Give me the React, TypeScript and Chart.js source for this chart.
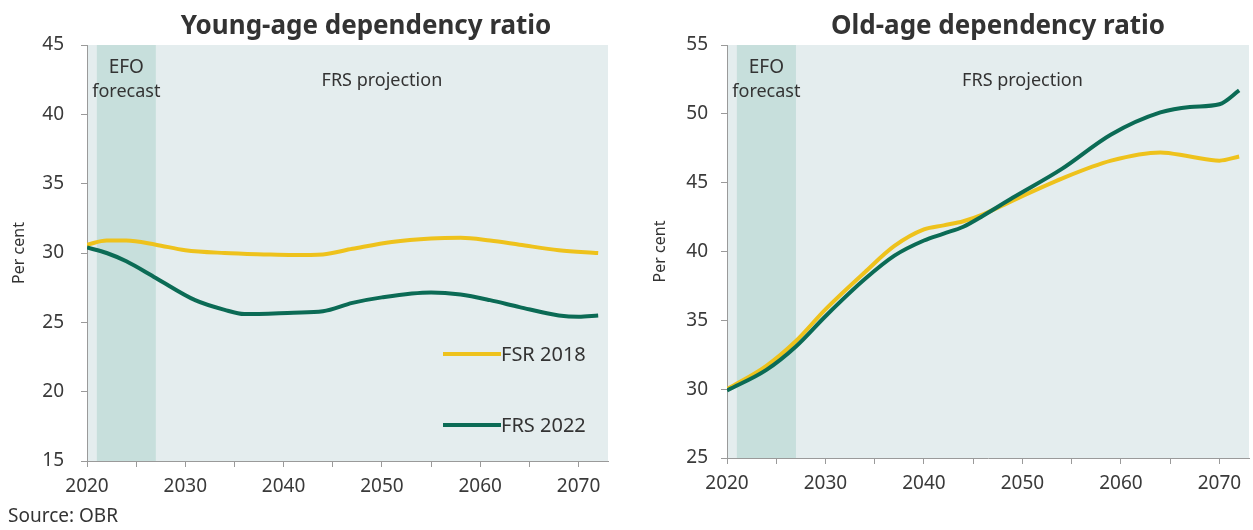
import React, { useEffect, useRef } from "react";
import { Chart, registerables } from "chart.js";
Chart.register(...registerables);

// ---------- DATA ----------
const youngTitle = "Young-age dependency ratio";
const oldTitle = "Old-age dependency ratio";

const youngFSR2018Years = [2020, 2022, 2024, 2027, 2030, 2034, 2038, 2041, 2044, 2047, 2051, 2055, 2058, 2061, 2064, 2068, 2072];
const youngFSR2018Values = [30.6, 30.9, 30.9, 30.6, 30.2, 30.0, 29.9, 29.85, 29.9, 30.3, 30.8, 31.05, 31.1, 30.9, 30.6, 30.2, 30.0];

const youngFRS2022Years = [2020, 2022, 2024, 2027, 2031, 2034, 2036, 2041, 2044, 2047, 2050, 2055, 2058, 2061, 2064, 2068, 2070, 2072];
const youngFRS2022Values = [30.4, 30.0, 29.4, 28.2, 26.6, 25.9, 25.6, 25.7, 25.8, 26.4, 26.8, 27.15, 27.0, 26.6, 26.1, 25.5, 25.4, 25.5];

const oldFSR2018Years = [2020, 2024, 2027, 2030, 2034, 2037, 2040, 2042, 2044, 2046, 2049, 2054, 2059, 2064, 2067, 2070, 2072];
const oldFSR2018Values = [30.0, 31.7, 33.5, 35.8, 38.5, 40.4, 41.6, 41.9, 42.2, 42.7, 43.7, 45.3, 46.6, 47.2, 46.9, 46.6, 46.9];

const oldFRS2022Years = [2020, 2024, 2027, 2030, 2034, 2037, 2040, 2042, 2044, 2046, 2049, 2054, 2059, 2064, 2067, 2070, 2072];
const oldFRS2022Values = [29.9, 31.4, 33.1, 35.3, 38.0, 39.7, 40.8, 41.3, 41.8, 42.6, 43.9, 46.0, 48.5, 50.1, 50.5, 50.7, 51.7];

const seriesLabels = ["FSR 2018", "FRS 2022"];
const xTickValues = [2020, 2030, 2040, 2050, 2060, 2070];
const forecastBand = [2021, 2027];
const youngRange = [15, 45];
const oldRange = [25, 55];

// ---------- STYLE ----------
const FONT = "'Noto Sans', sans-serif";
const YELLOW = "#EEC21C";
const GREEN = "#0B6B55";
const PLOT_BG = "#E4EDEE";
const BAND_BG = "#C7DFDC";
const TEXT = "#333333";
const TICK_TEXT = "#3a3a3a";
const AXIS = "#9A9A9A";

function pts(xs: number[], ys: number[]) {
  return xs.map((x, i) => ({ x, y: ys[i] }));
}

type PanelProps = {
  width: number;
  title: string;
  titleX: number;
  yRange: number[];
  yAxisWidth: number;
  xAxisHeight: number;
  padRight: number;
  yTitlePad: number;
  yTickPad: number;
  fsr: { x: number; y: number }[];
  frs: { x: number; y: number }[];
  legend: boolean;
  source: boolean;
};

function Panel(p: PanelProps) {
  const ref = useRef<HTMLCanvasElement | null>(null);
  useEffect(() => {
    if (!ref.current) return;
    const decor = {
      id: "decor",
      beforeDraw(chart: any) {
        const { ctx, chartArea: a } = chart;
        const x = chart.scales.x;
        ctx.save();
        ctx.fillStyle = PLOT_BG;
        ctx.fillRect(a.left, a.top, a.right - a.left, a.bottom - a.top);
        const x0 = x.getPixelForValue(forecastBand[0]);
        const x1 = x.getPixelForValue(forecastBand[1]);
        ctx.fillStyle = BAND_BG;
        ctx.fillRect(x0, a.top, x1 - x0, a.bottom - a.top);
        ctx.fillStyle = TEXT;
        ctx.textAlign = "center";
        ctx.textBaseline = "middle";
        const bandMid = (x0 + x1) / 2;
        ctx.font = `19px ${FONT}`;
        ctx.fillText("EFO", bandMid, a.top + 23);
        ctx.font = `18px ${FONT}`;
        ctx.fillText("forecast", bandMid, a.top + 47);
        ctx.fillText("FRS projection", x.getPixelForValue(2050), a.top + 36);
        ctx.restore();
      },
      afterDraw(chart: any) {
        const { ctx, chartArea: a } = chart;
        ctx.save();
        ctx.fillStyle = TEXT;
        ctx.textAlign = "center";
        ctx.textBaseline = "alphabetic";
        ctx.font = `bold 26px ${FONT}`;
        ctx.fillText(p.title, p.titleX, 34);
        if (p.legend) {
          const items = [
            { label: seriesLabels[0], color: YELLOW, dy: 309 },
            { label: seriesLabels[1], color: GREEN, dy: 380 },
          ];
          ctx.font = `20px ${FONT}`;
          ctx.textAlign = "left";
          ctx.textBaseline = "middle";
          for (const it of items) {
            const y = a.top + it.dy;
            ctx.strokeStyle = it.color;
            ctx.lineWidth = 4;
            ctx.beginPath();
            ctx.moveTo(a.right - 165, y);
            ctx.lineTo(a.right - 107, y);
            ctx.stroke();
            ctx.fillStyle = TEXT;
            ctx.fillText(it.label, a.right - 107, y + 1);
          }
        }
        if (p.source) {
          ctx.font = `19px ${FONT}`;
          ctx.textAlign = "left";
          ctx.textBaseline = "middle";
          ctx.fillStyle = TEXT;
          ctx.fillText("Source: OBR", 8, 517);
        }
        ctx.restore();
      },
    };
    const chart = new Chart(ref.current, {
      type: "line",
      data: {
        datasets: [
          {
            label: seriesLabels[0],
            data: p.fsr,
            borderColor: YELLOW,
            borderWidth: 4,
            pointRadius: 0,
            tension: 0.4,
            cubicInterpolationMode: "monotone",
            order: 2,
          },
          {
            label: seriesLabels[1],
            data: p.frs,
            borderColor: GREEN,
            borderWidth: 4,
            pointRadius: 0,
            tension: 0.4,
            cubicInterpolationMode: "monotone",
            order: 1,
          },
        ],
      },
      options: {
        animation: false,
        responsive: false,
        maintainAspectRatio: false,
        events: [],
        layout: { padding: { left: 0, right: p.padRight, top: 45, bottom: 0 } },
        plugins: { legend: { display: false }, title: { display: false }, tooltip: { enabled: false } },
        scales: {
          x: {
            type: "linear",
            min: 2020,
            max: 2073,
            afterFit: (s: any) => {
              s.height = p.xAxisHeight;
            },
            border: { display: true, color: AXIS, width: 1 },
            grid: { drawOnChartArea: false, drawTicks: true, tickLength: 6, color: AXIS },
            ticks: {
              stepSize: 5,
              includeBounds: false,
              autoSkip: false,
              maxRotation: 0,
              padding: 8,
              color: TICK_TEXT,
              font: { family: FONT, size: 19 },
              callback: (v: any) => (xTickValues.includes(Number(v)) ? String(v) : ""),
            },
          },
          y: {
            min: p.yRange[0],
            max: p.yRange[1],
            afterFit: (s: any) => {
              s.width = p.yAxisWidth;
            },
            border: { display: true, color: AXIS, width: 1 },
            grid: { drawOnChartArea: false, drawTicks: true, tickLength: 6, color: AXIS },
            title: {
              display: true,
              text: "Per cent",
              color: TEXT,
              font: { family: FONT, size: 16 },
              padding: { top: p.yTitlePad, bottom: 0 },
            },
            ticks: {
              stepSize: 5,
              padding: p.yTickPad,
              color: TICK_TEXT,
              font: { family: FONT, size: 19 },
            },
          },
        },
      } as any,
      plugins: [decor],
    });
    return () => chart.destroy();
  }, []);
  return <canvas ref={ref} width={p.width} height={530} style={{ display: "block", width: p.width, height: 530 }} />;
}

export default function App() {
  return (
    <div style={{ position: "fixed", left: 0, top: 0, width: 1253, height: 530, background: "#fff", display: "flex" }}>
      <Panel
        width={625}
        title={youngTitle}
        titleX={366}
        yRange={youngRange}
        yAxisWidth={87}
        xAxisHeight={69}
        padRight={17}
        yTitlePad={10}
        yTickPad={17}
        fsr={pts(youngFSR2018Years, youngFSR2018Values)}
        frs={pts(youngFRS2022Years, youngFRS2022Values)}
        legend={true}
        source={true}
      />
      <Panel
        width={628}
        title={oldTitle}
        titleX={373}
        yRange={oldRange}
        yAxisWidth={102}
        xAxisHeight={72}
        padRight={4}
        yTitlePad={26}
        yTickPad={13}
        fsr={pts(oldFSR2018Years, oldFSR2018Values)}
        frs={pts(oldFRS2022Years, oldFRS2022Values)}
        legend={false}
        source={false}
      />
    </div>
  );
}
